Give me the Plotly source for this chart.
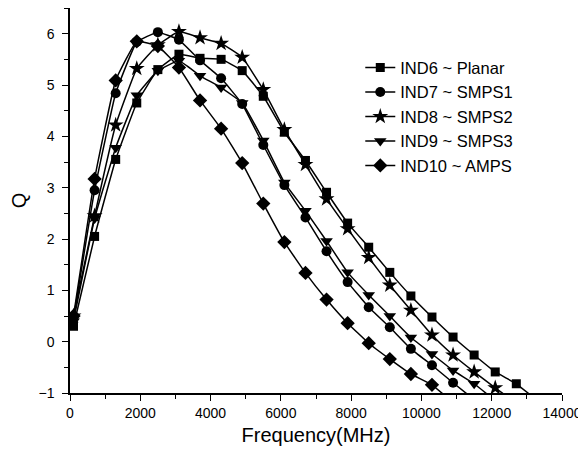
import plotly.graph_objects as go

freq = [100, 700, 1300, 1900, 2500, 3100, 3700, 4300, 4900, 5500, 6100, 6700,
        7300, 7900, 8500, 9100, 9700, 10300, 10900, 11500, 12100, 12700, 13300]

q_planar = [0.3, 2.05, 3.55, 4.65, 5.3, 5.6, 5.52, 5.5, 5.28, 4.78, 4.08, 3.53,
            2.91, 2.31, 1.84, 1.35, 0.89, 0.48, 0.09, -0.26, -0.59, -0.82, -1.15]
q_smps1 = [0.45, 2.95, 4.84, 5.84, 6.03, 5.88, 5.48, 5.13, 4.63, 3.83, 3.05, 2.42,
           1.76, 1.16, 0.67, 0.28, -0.14, -0.46, -0.8, -1.13]
q_smps2 = [0.5, 2.45, 4.22, 5.32, 5.78, 6.04, 5.92, 5.81, 5.54, 4.91, 4.13, 3.45,
           2.78, 2.2, 1.64, 1.1, 0.61, 0.13, -0.26, -0.59, -0.9, -1.2]
q_smps3 = [0.4, 2.4, 3.78, 4.8, 5.28, 5.47, 5.18, 4.95, 4.65, 3.92, 3.1, 2.55,
           1.96, 1.35, 0.91, 0.5, 0.08, -0.24, -0.56, -0.82, -1.15]
q_amps = [0.5, 3.17, 5.09, 5.85, 5.76, 5.34, 4.7, 4.15, 3.48, 2.69, 1.94, 1.34,
          0.82, 0.36, -0.03, -0.34, -0.63, -0.84, -1.19]

series = [
    ("IND6 ~ Planar", q_planar, "square", 9),
    ("IND7 ~ SMPS1", q_smps1, "circle", 10),
    ("IND8 ~ SMPS2", q_smps2, "star", 12),
    ("IND9 ~ SMPS3", q_smps3, "triangle-down", 11),
    ("IND10 ~ AMPS", q_amps, "diamond", 11),
]

fig = go.Figure()
for name, q, sym, sz in series:
    fig.add_trace(go.Scatter(
        x=freq[:len(q)], y=q, name=name, mode="lines+markers",
        line=dict(color="black", width=1.5, shape="spline", smoothing=0.3),
        marker=dict(symbol=sym, size=sz, color="black"),
    ))

fnt = "Liberation Sans, Arial"

# page has an 8px body margin, so the figure is shrunk by 8px each way
fig.update_layout(
    width=578, height=444,
    margin=dict(l=59, r=24, t=0, b=59),
    paper_bgcolor="white", plot_bgcolor="white",
    font=dict(family=fnt, size=14, color="black"),
    showlegend=True,
    legend=dict(x=0.59, y=0.89, xanchor="left", yanchor="top",
                font=dict(family=fnt, size=16.5, color="black"),
                bgcolor="rgba(0,0,0,0)", tracegroupgap=0),
)
fig.update_xaxes(
    range=[0, 14000], dtick=2000, tick0=0, tickformat="d",
    showline=True, linecolor="black", linewidth=1.5, mirror=False,
    ticks="outside", ticklen=6, tickwidth=1.2, tickcolor="black",
    minor=dict(dtick=1000, ticks="outside", ticklen=4, tickcolor="black"),
    showgrid=False, zeroline=False,
    title=dict(text="Frequency(MHz)", font=dict(size=20), standoff=8),
)
fig.update_yaxes(
    range=[-1, 6.5], dtick=1, tick0=-1,
    showline=True, linecolor="black", linewidth=1.5, mirror=False,
    ticks="outside", ticklen=6, tickwidth=1.2, tickcolor="black",
    ticklabelstandoff=5,
    minor=dict(dtick=0.5, ticks="outside", ticklen=4, tickcolor="black"),
    showgrid=False, zeroline=False,
    title=dict(text="Q", font=dict(size=20), standoff=16),
)

fig.write_html("out.html")
